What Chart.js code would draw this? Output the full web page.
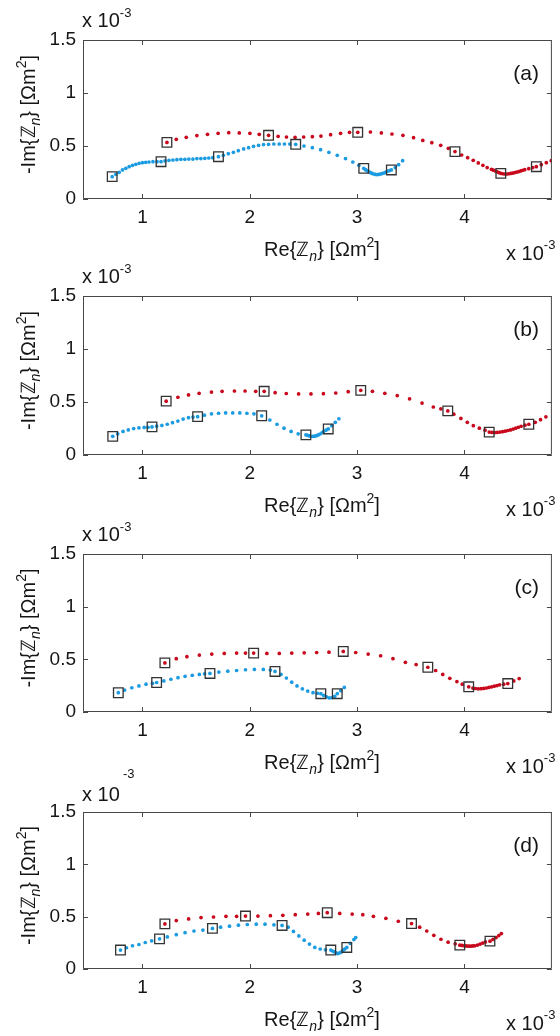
<!DOCTYPE html>
<html>
<head>
<meta charset="utf-8">
<script src="https://cdn.jsdelivr.net/npm/chart.js@4.4.1/dist/chart.umd.min.js"></script>
<style>
  html, body { margin: 0; padding: 0; background: #fff; overflow: hidden; }
  #wrap { position: relative; width: 560px; height: 1036px; }
  #wrap canvas { position: absolute; left: 0; }
</style>
</head>
<body>
<div id="wrap"></div>
<script>
// Nyquist plots, values in units of 1e-3 Ohm m^2: [Re, -Im]
const xTicks = [1, 2, 3, 4];
const yTicks = [0, 0.5, 1, 1.5];
const xRange = [0.446, 4.815];
const yRange = [0, 1.5];
const panelLabels = ['(a)', '(b)', '(c)', '(d)'];

const blueA = [[0.718,0.211],[0.752,0.233],[0.783,0.252],[0.814,0.274],[0.845,0.289],[0.876,0.305],[0.907,0.318],[0.938,0.327],[0.969,0.337],[1.000,0.343],[1.030,0.346],[1.061,0.349],[1.098,0.352],[1.136,0.352],[1.173,0.352],[1.210,0.359],[1.247,0.365],[1.284,0.368],[1.321,0.371],[1.358,0.374],[1.395,0.374],[1.432,0.377],[1.470,0.377],[1.507,0.381],[1.544,0.381],[1.581,0.384],[1.618,0.387],[1.655,0.390],[1.708,0.399],[1.754,0.412],[1.800,0.428],[1.847,0.440],[1.893,0.456],[1.943,0.472],[1.989,0.484],[2.035,0.497],[2.082,0.506],[2.128,0.513],[2.175,0.516],[2.224,0.519],[2.274,0.519],[2.323,0.519],[2.373,0.519],[2.428,0.516],[2.505,0.500],[2.583,0.484],[2.660,0.465],[2.737,0.440],[2.815,0.412],[2.892,0.381],[2.960,0.349],[3.016,0.318],[3.062,0.289],[3.078,0.277],[3.093,0.267],[3.108,0.258],[3.124,0.248],[3.140,0.241],[3.155,0.236],[3.170,0.232],[3.186,0.230],[3.201,0.232],[3.217,0.236],[3.232,0.240],[3.248,0.245],[3.264,0.252],[3.279,0.261],[3.300,0.267],[3.319,0.274],[3.356,0.296],[3.387,0.324],[3.424,0.362]];
const blueAMarks = [[0.718,0.211],[1.173,0.352],[1.708,0.399],[2.428,0.516],[3.062,0.289],[3.319,0.274]];
const redA = [[1.228,0.534],[1.315,0.563],[1.408,0.582],[1.507,0.598],[1.606,0.610],[1.705,0.620],[1.804,0.626],[1.902,0.623],[2.001,0.620],[2.088,0.610],[2.175,0.601],[2.264,0.591],[2.342,0.585],[2.422,0.582],[2.502,0.585],[2.583,0.588],[2.663,0.594],[2.753,0.607],[2.846,0.620],[2.929,0.629],[3.006,0.629],[3.124,0.632],[3.226,0.623],[3.325,0.613],[3.427,0.601],[3.526,0.579],[3.612,0.553],[3.696,0.531],[3.779,0.506],[3.850,0.478],[3.912,0.447],[3.974,0.415],[4.030,0.390],[4.082,0.365],[4.129,0.340],[4.172,0.318],[4.212,0.296],[4.252,0.280],[4.270,0.272],[4.289,0.264],[4.305,0.256],[4.322,0.248],[4.339,0.242],[4.357,0.238],[4.376,0.236],[4.395,0.236],[4.413,0.238],[4.432,0.241],[4.450,0.245],[4.469,0.249],[4.487,0.254],[4.506,0.259],[4.525,0.265],[4.543,0.271],[4.562,0.277],[4.599,0.286],[4.636,0.296],[4.670,0.305],[4.716,0.324],[4.763,0.343],[4.809,0.362],[4.855,0.374]];
const redAMarks = [[1.228,0.534],[2.175,0.601],[3.006,0.629],[3.912,0.447],[4.339,0.242],[4.670,0.305]];

const blueB = [[0.723,0.176],[0.769,0.200],[0.819,0.222],[0.868,0.237],[0.918,0.249],[0.967,0.256],[1.016,0.260],[1.052,0.262],[1.089,0.265],[1.132,0.272],[1.181,0.279],[1.231,0.290],[1.280,0.305],[1.330,0.320],[1.379,0.339],[1.429,0.352],[1.471,0.358],[1.514,0.362],[1.577,0.376],[1.643,0.388],[1.709,0.394],[1.775,0.397],[1.841,0.397],[1.907,0.397],[1.973,0.394],[2.039,0.388],[2.111,0.370],[2.187,0.330],[2.253,0.290],[2.319,0.253],[2.385,0.222],[2.451,0.200],[2.523,0.190],[2.539,0.185],[2.556,0.180],[2.572,0.177],[2.589,0.176],[2.605,0.178],[2.622,0.182],[2.638,0.189],[2.655,0.198],[2.672,0.210],[2.688,0.222],[2.710,0.234],[2.731,0.246],[2.764,0.277],[2.797,0.308],[2.830,0.342]];
const blueBMarks = [[0.723,0.176],[1.089,0.265],[1.514,0.362],[2.111,0.370],[2.523,0.190],[2.731,0.246]];
const redB = [[1.221,0.508],[1.330,0.545],[1.429,0.567],[1.528,0.582],[1.643,0.594],[1.742,0.601],[1.857,0.604],[1.956,0.604],[2.055,0.601],[2.134,0.601],[2.236,0.588],[2.340,0.580],[2.455,0.576],[2.570,0.576],[2.686,0.579],[2.801,0.585],[2.917,0.597],[3.034,0.610],[3.143,0.601],[3.258,0.582],[3.374,0.561],[3.489,0.530],[3.605,0.490],[3.710,0.453],[3.780,0.436],[3.845,0.416],[3.901,0.385],[3.967,0.345],[4.027,0.308],[4.083,0.277],[4.139,0.253],[4.192,0.234],[4.231,0.216],[4.256,0.213],[4.281,0.212],[4.305,0.213],[4.330,0.216],[4.355,0.220],[4.380,0.225],[4.404,0.231],[4.429,0.237],[4.454,0.245],[4.478,0.253],[4.503,0.262],[4.528,0.271],[4.564,0.281],[4.600,0.290],[4.660,0.308],[4.709,0.333],[4.759,0.360]];
const redBMarks = [[1.221,0.508],[2.134,0.601],[3.034,0.610],[3.845,0.416],[4.231,0.216],[4.600,0.290]];

const blueC = [[0.775,0.183],[0.834,0.208],[0.901,0.230],[0.967,0.248],[1.033,0.264],[1.093,0.273],[1.132,0.280],[1.199,0.295],[1.265,0.311],[1.331,0.326],[1.397,0.339],[1.464,0.348],[1.530,0.357],[1.579,0.363],[1.629,0.366],[1.712,0.379],[1.795,0.388],[1.877,0.394],[1.960,0.401],[2.043,0.404],[2.126,0.404],[2.192,0.398],[2.235,0.385],[2.291,0.357],[2.341,0.323],[2.391,0.283],[2.440,0.248],[2.490,0.220],[2.540,0.199],[2.589,0.183],[2.630,0.178],[2.662,0.174],[2.688,0.158],[2.715,0.143],[2.741,0.134],[2.768,0.137],[2.791,0.149],[2.815,0.174],[2.848,0.202],[2.881,0.233]];
const blueCMarks = [[0.775,0.183],[1.132,0.280],[1.629,0.366],[2.235,0.385],[2.662,0.174],[2.815,0.174]];
const redC = [[1.209,0.466],[1.315,0.506],[1.414,0.525],[1.530,0.540],[1.646,0.550],[1.762,0.556],[1.877,0.559],[1.960,0.559],[2.036,0.559],[2.159,0.556],[2.275,0.556],[2.391,0.559],[2.507,0.562],[2.623,0.565],[2.738,0.568],[2.871,0.575],[2.987,0.565],[3.103,0.550],[3.219,0.534],[3.334,0.506],[3.450,0.472],[3.550,0.450],[3.659,0.425],[3.732,0.394],[3.798,0.357],[3.864,0.320],[3.930,0.289],[3.980,0.264],[4.040,0.239],[4.079,0.227],[4.104,0.223],[4.129,0.220],[4.154,0.221],[4.179,0.224],[4.204,0.228],[4.228,0.233],[4.253,0.239],[4.278,0.245],[4.303,0.251],[4.328,0.258],[4.366,0.264],[4.404,0.270],[4.460,0.295],[4.510,0.317]];
const redCMarks = [[1.209,0.466],[2.036,0.559],[2.871,0.575],[3.659,0.425],[4.040,0.239],[4.404,0.270]];

const blueD = [[0.795,0.181],[0.851,0.203],[0.907,0.222],[0.967,0.234],[1.026,0.253],[1.086,0.269],[1.159,0.288],[1.232,0.306],[1.315,0.328],[1.397,0.347],[1.480,0.363],[1.563,0.372],[1.652,0.388],[1.728,0.400],[1.811,0.409],[1.894,0.419],[1.977,0.425],[2.060,0.428],[2.142,0.428],[2.225,0.422],[2.301,0.416],[2.358,0.400],[2.407,0.359],[2.457,0.316],[2.507,0.275],[2.556,0.238],[2.606,0.206],[2.656,0.191],[2.705,0.183],[2.755,0.181],[2.772,0.172],[2.788,0.163],[2.805,0.155],[2.821,0.147],[2.838,0.155],[2.854,0.163],[2.871,0.180],[2.887,0.193],[2.904,0.206],[2.937,0.244],[2.970,0.281],[2.987,0.300]];
const blueDMarks = [[0.795,0.181],[1.159,0.288],[1.652,0.388],[2.301,0.416],[2.755,0.181],[2.904,0.206]];
const redD = [[1.209,0.431],[1.315,0.463],[1.430,0.478],[1.546,0.491],[1.662,0.497],[1.778,0.503],[1.877,0.503],[1.960,0.506],[2.076,0.506],[2.192,0.509],[2.308,0.513],[2.424,0.519],[2.540,0.525],[2.639,0.531],[2.722,0.538],[2.838,0.531],[2.954,0.525],[3.053,0.519],[3.152,0.503],[3.268,0.484],[3.384,0.456],[3.507,0.434],[3.583,0.400],[3.649,0.363],[3.715,0.322],[3.781,0.284],[3.848,0.256],[3.914,0.241],[3.957,0.228],[3.977,0.225],[3.997,0.222],[4.013,0.220],[4.030,0.219],[4.046,0.219],[4.063,0.219],[4.080,0.220],[4.096,0.222],[4.121,0.229],[4.146,0.238],[4.170,0.248],[4.195,0.259],[4.238,0.266],[4.266,0.283],[4.295,0.300],[4.320,0.319],[4.344,0.338]];
const redDMarks = [[1.209,0.431],[1.960,0.506],[2.722,0.538],[3.507,0.434],[3.957,0.228],[4.238,0.266]];

const panels = [
  { blue: blueA, blueMarks: blueAMarks, red: redA, redMarks: redAMarks },
  { blue: blueB, blueMarks: blueBMarks, red: redB, redMarks: redBMarks },
  { blue: blueC, blueMarks: blueCMarks, red: redC, redMarks: redCMarks },
  { blue: blueD, blueMarks: blueDMarks, red: redD, redMarks: redDMarks }
];

// page geometry of each axes box
const plotTops = [40, 296, 554, 812];
const plotBottoms = [199, 455, 712, 969];
const padTops = [40, 40, 40, 60];
const BELOW = 66;

const FONT = '"Liberation Sans", Arial, Helvetica, sans-serif';
const BLUE = '#1b9be2';
const RED = '#c8081c';
const BOX = '#474747';
const INK = '#151515';
const TICK_SIZE = 19;
const TITLE_SIZE = 20;
const EXP_SIZE = 20;

function pts(arr) { return arr.map(p => ({ x: p[0], y: p[1] })); }

// draws a run of text pieces [text, size, style, rise]
function richText(ctx, parts, x, y, align) {
  let total = 0;
  const widths = parts.map(p => {
    ctx.font = (p[2] || '') + ' ' + p[1] + 'px ' + FONT;
    const w = ctx.measureText(p[0]).width;
    total += w;
    return w;
  });
  let cx = align === 'center' ? x - total / 2 : (align === 'right' ? x - total : x);
  parts.forEach((p, i) => {
    ctx.font = (p[2] || '') + ' ' + p[1] + 'px ' + FONT;
    ctx.fillText(p[0], cx, y + (p[3] || 0));
    cx += widths[i];
  });
}

function titleParts(head) {
  return [[head, TITLE_SIZE], ['\u2124', TITLE_SIZE], ['n', 14, 'italic', 5],
          ['} [\u03A9m', TITLE_SIZE], ['2', 14, '', -9], [']', TITLE_SIZE]];
}

function framePlugin(idx) {
  return {
    id: 'frame' + idx,
    afterDraw(chart) {
      const ctx = chart.ctx;
      const a = chart.chartArea;
      const xs = chart.scales.x, ys = chart.scales.y;
      ctx.save();
      // axes box with inward ticks on all four sides
      ctx.strokeStyle = BOX;
      ctx.lineWidth = 1;
      ctx.beginPath();
      ctx.rect(a.left + 0.5, a.top + 0.5, a.right - a.left - 1, a.bottom - a.top - 1);
      xTicks.forEach(v => {
        const px = Math.round(xs.getPixelForValue(v)) + 0.5;
        ctx.moveTo(px, a.bottom); ctx.lineTo(px, a.bottom - 5);
        ctx.moveTo(px, a.top); ctx.lineTo(px, a.top + 5);
      });
      yTicks.forEach(v => {
        const py = Math.round(ys.getPixelForValue(v)) + 0.5;
        ctx.moveTo(a.left, py); ctx.lineTo(a.left + 5, py);
        ctx.moveTo(a.right, py); ctx.lineTo(a.right - 5, py);
      });
      ctx.stroke();

      ctx.fillStyle = INK;
      ctx.textBaseline = 'alphabetic';
      // y axis title
      ctx.save();
      ctx.translate(35, (a.top + a.bottom) / 2 - 5);
      ctx.rotate(-Math.PI / 2);
      richText(ctx, titleParts('-Im{'), 0, 0, 'center');
      ctx.restore();
      // x axis title
      richText(ctx, titleParts('Re{'), 322, a.bottom + 57, 'center');
      // exponent above the y axis
      if (idx === 3) {
        richText(ctx, [['x 10', EXP_SIZE]], 82, a.top - 11, 'left');
        richText(ctx, [['-3', 13]], 123, a.top - 34, 'left');
      } else {
        richText(ctx, [['x 10', EXP_SIZE], ['-3', 13, '', -10]], 82, a.top - 13, 'left');
      }
      // exponent of the x axis
      richText(ctx, [['x 10', EXP_SIZE], ['-3', 13, '', -11]], 506, a.bottom + 61, 'left');
      // panel letter
      ctx.font = '21px ' + FONT;
      ctx.textAlign = 'right';
      ctx.fillText(panelLabels[idx], 539, a.top + 40);
      ctx.restore();
    }
  };
}

const wrap = document.getElementById('wrap');
panels.forEach((pn, i) => {
  const plotH = plotBottoms[i] - plotTops[i];
  const H = padTops[i] + plotH + BELOW;
  const cv = document.createElement('canvas');
  cv.width = 560; cv.height = H;
  cv.style.top = (plotTops[i] - padTops[i]) + 'px';
  cv.style.width = '560px'; cv.style.height = H + 'px';
  wrap.appendChild(cv);

  new Chart(cv, {
    type: 'scatter',
    data: {
      datasets: [
        { label: 'markers', data: pts(pn.blueMarks.concat(pn.redMarks)), pointStyle: 'rect',
          pointRadius: 6.8, pointBorderWidth: 1.3, pointBorderColor: '#333',
          pointBackgroundColor: 'rgba(0,0,0,0)', showLine: false, clip: false },
        { label: 'red', data: pts(pn.red), pointRadius: 1.85, pointBorderWidth: 0,
          pointBackgroundColor: RED, showLine: false, clip: 0 },
        { label: 'blue', data: pts(pn.blue), pointRadius: 1.85, pointBorderWidth: 0,
          pointBackgroundColor: BLUE, showLine: false, clip: 0 }
      ]
    },
    options: {
      responsive: false,
      animation: false,
      devicePixelRatio: 1,
      events: [],
      layout: { padding: { top: padTops[i], right: 6, left: 0, bottom: 0 } },
      plugins: { legend: { display: false }, tooltip: { enabled: false } },
      scales: {
        x: {
          type: 'linear', min: xRange[0], max: xRange[1],
          grid: { display: false, drawTicks: false }, border: { display: false },
          ticks: { color: INK, font: { family: FONT, size: TICK_SIZE }, padding: 7,
                   maxRotation: 0, autoSkip: false, callback: v => String(v) },
          afterBuildTicks: s => { s.ticks = xTicks.map(v => ({ value: v })); },
          afterFit: s => { s.height = BELOW; s.paddingLeft = 0; s.paddingRight = 0; }
        },
        y: {
          type: 'linear', min: yRange[0], max: yRange[1],
          grid: { display: false, drawTicks: false }, border: { display: false },
          ticks: { color: INK, font: { family: FONT, size: TICK_SIZE }, padding: 7,
                   autoSkip: false, callback: v => String(v) },
          afterBuildTicks: s => { s.ticks = yTicks.map(v => ({ value: v })); },
          afterFit: s => { s.width = 83; s.paddingTop = 0; s.paddingBottom = 0; }
        }
      }
    },
    plugins: [framePlugin(i)]
  });
});
</script>
</body>
</html>
